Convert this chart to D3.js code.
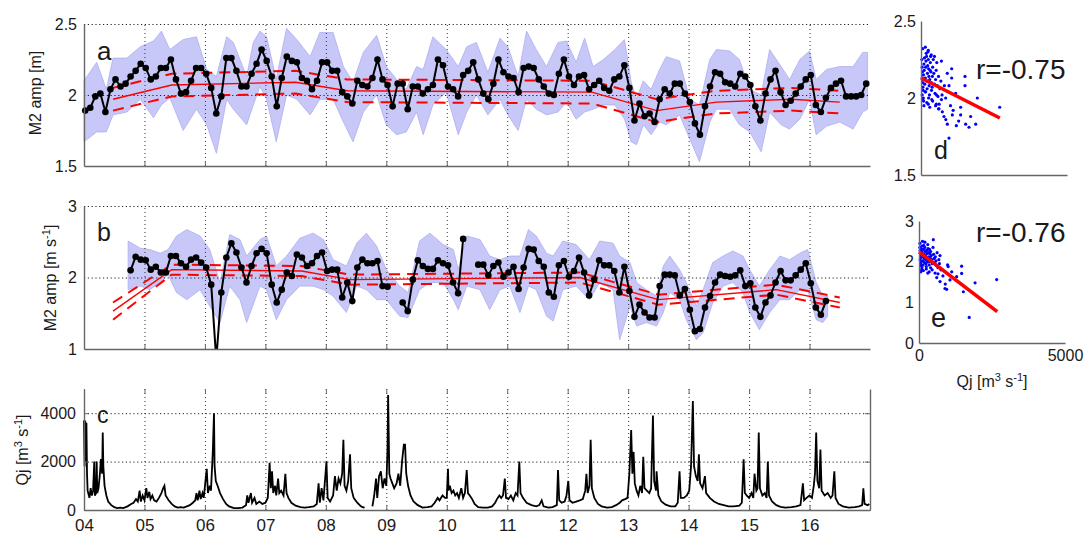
<!DOCTYPE html>
<html>
<head>
<meta charset="utf-8">
<script src="https://cdn.jsdelivr.net/npm/d3@7"></script>
<style>
  body { margin: 0; background: #fff; }
  svg text { font-family: "Liberation Sans", Arial, sans-serif; fill: #1a1a1a; }
</style>
</head>
<body>
<svg width="1089" height="536"></svg>
<script>
// year ticks on the shared time axis
var yearValues = [2004, 2005, 2006, 2007, 2008, 2009, 2010, 2011, 2012, 2013, 2014, 2015, 2016];
var yearLabels = ["04", "05", "06", "07", "08", "09", "10", "11", "12", "13", "14", "15", "16"];

// panel a: monthly M2 amplitude [m], from Jan 2004
var ampA = [1.89, 1.91, 1.99, 2.01, 1.88, 2.04, 2.11, 2.06, 2.08, 2.13,
  2.17, 2.22, 2.19, 2.11, 2.13, 2.19, 2.19, 2.25, 2.11, 2.01,
  2.02, 2.10, 2.19, 2.19, 2.15, 2.05, 1.87, 1.99, 2.26, 2.26,
  2.17, 2.06, 2.06, 2.15, 2.22, 2.32, 2.24, 2.13, 1.92, 2.12,
  2.27, 2.24, 2.23, 2.12, 2.10, 2.04, 2.10, 2.23, 2.23, 2.17,
  2.17, 2.02, 1.99, 1.94, 2.10, 2.07, 2.06, 2.12, 2.25, 2.11,
  2.07, 1.92, 2.08, 2.08, 1.90, 2.06, 2.06, 2.01, 2.04, 2.07,
  2.25, 2.21, 2.06, 2.04, 1.99, 2.14, 2.17, 2.23, 2.11, 2.01,
  1.97, 2.08, 2.25, 2.16, 2.13, 2.12, 2.02, 2.19, 2.20, 2.19,
  2.11, 2.06, 2.01, 2.00, 2.15, 2.25, 2.13, 2.07, 2.13, 2.14,
  2.04, 2.07, 2.10, 2.05, 2.03, 2.11, 2.13, 2.21, 2.05, 1.82,
  1.94, 1.85, 1.87, 1.81, 1.97, 2.04, 2.01, 2.08, 2.08, 2.01,
  1.95, 1.80, 1.72, 1.92, 2.06, 2.16, 2.15, 2.09, 2.08, 2.06,
  2.15, 2.13, 2.07, 1.92, 1.82, 2.01, 2.11, 2.17, 2.02, 1.93,
  1.96, 2.01, 2.06, 2.11, 2.14, 1.93, 1.88, 1.98, 2.05, 2.08,
  2.10, 1.99, 1.99, 1.99, 2.00, 2.08];

// panel b: monthly M2 amplitude [m s-1], from Jan 2004 (null = no data)
var ampB = [null, null, null, null, null, null, null, null, null, 2.10,
  2.29, 2.25, 2.24, 2.11, 2.15, 2.07, 2.07, 2.30, 2.30, 2.20,
  2.15, 2.25, 2.28, 2.21, 2.14, 1.90, 0.85, 1.79, 2.28, 2.48,
  2.35, 2.14, 1.93, 2.16, 2.34, 2.40, 2.34, 1.90, 1.65, 1.83,
  2.07, 2.02, 2.32, 2.28, 2.16, 2.20, 2.30, 2.35, 2.09, 2.11,
  2.11, 1.72, 1.93, 1.67, 2.14, 2.25, 2.20, 2.20, 2.23, 1.88,
  1.87, null, null, 1.65, 1.53, 1.97, 2.24, 2.16, 2.12, 2.12,
  2.24, 2.20, 2.17, 1.93, 1.78, 2.54, null, null, 2.18, 2.18,
  2.03, 2.16, 2.21, 2.01, 2.07, 2.15, 1.84, 2.14, 2.40, 2.39,
  2.23, 2.15, 1.79, 1.73, 2.17, 2.23, 2.01, 2.09, 2.28, 2.07,
  1.75, 1.97, 2.24, 2.17, 2.17, 2.09, 1.79, 2.15, 1.81, 1.45,
  1.62, 1.51, 1.44, 1.44, 1.88, 2.04, 2.04, 2.03, 1.75, 1.84,
  1.55, 1.25, 1.28, 1.58, 1.74, 1.93, 2.04, 2.02, 2.01, 2.03,
  2.10, 1.88, 1.92, 1.58, 1.45, 1.65, 1.75, 1.93, 2.09, 1.96,
  1.96, 2.03, 2.11, 2.20, 1.92, 1.58, 1.48, 1.67];

// shaded envelopes: [year, upper, lower]
var bandA = [[2004.00, 2.10, 1.67], [2004.21, 2.23, 1.74], [2004.37, 2.04, 1.74], [2004.48, 2.26, 1.86],
  [2004.71, 2.26, 1.88], [2004.93, 2.34, 1.97], [2005.15, 2.38, 1.84], [2005.28, 2.45, 1.93],
  [2005.42, 2.32, 1.98], [2005.64, 2.39, 1.75], [2005.86, 2.41, 1.90], [2006.03, 2.18, 1.79],
  [2006.19, 2.13, 1.59], [2006.36, 2.41, 1.97], [2006.47, 2.37, 1.90], [2006.69, 2.13, 1.79],
  [2006.80, 2.37, 1.93], [2006.91, 2.45, 2.06], [2007.02, 2.41, 1.97], [2007.18, 2.11, 1.67],
  [2007.35, 2.47, 2.00], [2007.52, 2.39, 1.97], [2007.74, 2.27, 1.86], [2007.90, 2.44, 1.97],
  [2008.12, 2.44, 1.97], [2008.29, 2.20, 1.81], [2008.45, 2.09, 1.67], [2008.62, 2.30, 1.88],
  [2008.84, 2.42, 2.00], [2009.00, 2.20, 1.79], [2009.17, 2.11, 1.72], [2009.33, 2.04, 1.74],
  [2009.50, 2.20, 1.88], [2009.61, 2.18, 1.72], [2009.77, 2.41, 1.93], [2009.99, 2.32, 2.02],
  [2010.19, 2.20, 1.72], [2010.33, 2.34, 1.88], [2010.49, 2.37, 2.00], [2010.68, 2.16, 1.86],
  [2010.88, 2.40, 1.97], [2011.01, 2.34, 1.86], [2011.18, 2.13, 1.75], [2011.32, 2.45, 1.97],
  [2011.48, 2.32, 1.90], [2011.65, 2.20, 1.86], [2011.84, 2.37, 1.88], [2011.98, 2.38, 1.95],
  [2012.14, 2.23, 1.83], [2012.28, 2.40, 1.88], [2012.42, 2.20, 1.90], [2012.59, 2.25, 1.93],
  [2012.78, 2.32, 1.93], [2012.94, 2.39, 1.83], [2013.05, 2.09, 1.67], [2013.14, 1.97, 1.65],
  [2013.25, 2.10, 1.79], [2013.38, 2.04, 1.72], [2013.52, 2.18, 1.81], [2013.63, 2.27, 1.79],
  [2013.85, 2.24, 1.86], [2014.02, 1.97, 1.69], [2014.18, 1.93, 1.53], [2014.35, 2.25, 1.81],
  [2014.46, 2.32, 1.90], [2014.68, 2.31, 1.90], [2014.84, 2.25, 1.79], [2015.01, 2.04, 1.74],
  [2015.20, 2.00, 1.60], [2015.34, 2.32, 1.88], [2015.53, 2.20, 1.79], [2015.67, 2.11, 1.76],
  [2015.84, 2.25, 1.83], [2016.00, 2.31, 1.97], [2016.11, 2.11, 1.72], [2016.28, 2.18, 1.78],
  [2016.50, 2.20, 1.81], [2016.72, 2.20, 1.76], [2016.88, 2.30, 1.88], [2016.96, 2.30, 1.90]];

var bandB = [[2004.73, 2.51, 1.83], [2004.93, 2.41, 1.88], [2005.09, 2.39, 1.83], [2005.26, 2.34, 1.93],
  [2005.39, 2.39, 2.04], [2005.53, 2.58, 1.79], [2005.70, 2.67, 1.69], [2005.92, 2.58, 1.83],
  [2006.08, 2.39, 1.60], [2006.25, 1.93, 1.37], [2006.41, 2.60, 1.88], [2006.58, 2.53, 1.69],
  [2006.69, 2.30, 1.37], [2006.91, 2.53, 1.88], [2007.02, 2.58, 1.83], [2007.18, 2.16, 1.41],
  [2007.35, 2.30, 1.69], [2007.57, 2.55, 1.88], [2007.79, 2.62, 1.88], [2007.96, 2.53, 1.83],
  [2008.12, 2.25, 1.74], [2008.34, 2.16, 1.51], [2008.51, 2.48, 1.88], [2008.67, 2.62, 1.83],
  [2008.84, 2.44, 1.69], [2009.00, 2.11, 1.69], [2009.22, 1.88, 1.46], [2009.36, 1.79, 1.44],
  [2009.55, 2.51, 1.83], [2009.72, 2.62, 1.93], [2009.94, 2.46, 1.93], [2010.11, 2.39, 1.69],
  [2010.19, 2.11, 1.55], [2010.33, 2.58, 1.88], [2010.55, 2.53, 1.83], [2010.71, 2.30, 1.55],
  [2010.88, 2.25, 1.83], [2011.04, 2.30, 1.88], [2011.21, 2.30, 1.51], [2011.35, 2.67, 1.88],
  [2011.48, 2.58, 1.83], [2011.65, 2.34, 1.46], [2011.76, 2.30, 1.39], [2011.92, 2.51, 1.83],
  [2012.14, 2.46, 1.88], [2012.36, 2.25, 1.69], [2012.53, 2.51, 1.93], [2012.75, 2.48, 1.83],
  [2012.86, 2.30, 1.13], [2013.03, 2.21, 1.60], [2013.14, 1.93, 1.32], [2013.30, 1.83, 1.37],
  [2013.47, 1.74, 1.32], [2013.58, 2.16, 1.51], [2013.69, 2.30, 1.79], [2013.85, 2.11, 1.69],
  [2013.96, 1.93, 1.41], [2014.13, 1.60, 1.13], [2014.24, 1.83, 1.23], [2014.40, 2.21, 1.65],
  [2014.57, 2.30, 1.88], [2014.73, 2.37, 1.93], [2014.90, 2.30, 1.79], [2015.01, 2.11, 1.51],
  [2015.17, 1.88, 1.27], [2015.34, 2.11, 1.51], [2015.51, 2.30, 1.69], [2015.67, 2.25, 1.69],
  [2015.84, 2.34, 1.83], [2015.97, 2.39, 1.83], [2016.11, 1.93, 1.41], [2016.22, 1.74, 1.37],
  [2016.30, 1.74, 1.46]];

// piecewise trends: [year, centre, upper bound, lower bound]
var trendA = [[2004.48, 1.97, 2.05, 1.89], [2005.45, 2.07, 2.15, 1.99], [2007.50, 2.09, 2.17, 2.01],
  [2008.35, 2.03, 2.11, 1.95], [2012.40, 2.02, 2.10, 1.94], [2013.47, 1.89, 1.97, 1.81],
  [2014.46, 1.95, 2.03, 1.87], [2015.70, 1.97, 2.05, 1.89], [2016.50, 1.95, 2.03, 1.87]];
var trendB = [[2004.48, 1.53, 1.65, 1.41], [2005.45, 2.11, 2.18, 2.04], [2007.60, 2.09, 2.16, 2.02],
  [2008.40, 1.97, 2.04, 1.90], [2012.20, 2.00, 2.07, 1.93], [2013.50, 1.69, 1.76, 1.62],
  [2015.45, 1.83, 1.90, 1.76], [2016.50, 1.65, 1.72, 1.58]];

// panel c: discharge Qj [m3 s-1], [year, value]
var qj = [[2004.00, 3700], [2004.01, 1800], [2004.02, 3700], [2004.03, 2000], [2004.04, 3600], [2004.05, 1500],
  [2004.06, 800], [2004.07, 700], [2004.09, 500], [2004.11, 900], [2004.13, 600], [2004.15, 800], [2004.17, 2000],
  [2004.18, 600], [2004.20, 700], [2004.21, 2000], [2004.22, 700], [2004.24, 900], [2004.26, 1400], [2004.28, 2100],
  [2004.30, 1500], [2004.31, 3200], [2004.32, 1800], [2004.34, 1000], [2004.37, 600], [2004.40, 350], [2004.45, 200],
  [2004.50, 120], [2004.55, 80], [2004.60, 100], [2004.65, 80], [2004.72, 150], [2004.78, 250], [2004.82, 300],
  [2004.86, 450], [2004.89, 350], [2004.92, 800], [2004.94, 350], [2004.97, 600], [2005.00, 400], [2005.03, 900],
  [2005.05, 500], [2005.08, 750], [2005.10, 450], [2005.13, 600], [2005.16, 400], [2005.20, 350], [2005.24, 500],
  [2005.28, 700], [2005.31, 900], [2005.33, 1000], [2005.35, 600], [2005.40, 400], [2005.45, 250], [2005.50, 150],
  [2005.55, 100], [2005.60, 120], [2005.65, 100], [2005.70, 150], [2005.75, 200], [2005.80, 300], [2005.84, 400],
  [2005.86, 700], [2005.88, 400], [2005.91, 800], [2005.93, 450], [2005.96, 700], [2005.98, 500], [2006.03, 1700],
  [2006.05, 700], [2006.08, 1000], [2006.10, 800], [2006.13, 2400], [2006.15, 4000], [2006.16, 1800], [2006.18, 1200],
  [2006.21, 1000], [2006.25, 700], [2006.30, 450], [2006.35, 250], [2006.40, 150], [2006.48, 80], [2006.55, 80],
  [2006.62, 100], [2006.68, 200], [2006.70, 600], [2006.72, 300], [2006.76, 700], [2006.78, 300], [2006.82, 500],
  [2006.85, 250], [2006.90, 350], [2006.95, 250], [2007.00, 300], [2007.04, 500], [2007.07, 1950], [2007.09, 900],
  [2007.11, 1600], [2007.13, 700], [2007.16, 1000], [2007.18, 600], [2007.21, 1300], [2007.23, 700], [2007.26, 800],
  [2007.30, 600], [2007.33, 1500], [2007.35, 700], [2007.38, 500], [2007.43, 300], [2007.50, 180], [2007.58, 120],
  [2007.65, 100], [2007.72, 120], [2007.80, 150], [2007.85, 250], [2007.88, 1100], [2007.90, 300], [2007.93, 900],
  [2007.96, 400], [2008.01, 2000], [2008.03, 500], [2008.07, 350], [2008.12, 600], [2008.15, 1400], [2008.18, 800],
  [2008.21, 1300], [2008.24, 1100], [2008.27, 1500], [2008.29, 2900], [2008.31, 1000], [2008.34, 800], [2008.37, 1200],
  [2008.40, 2300], [2008.42, 900], [2008.46, 500], [2008.52, 300], [2008.58, 150], [2008.62, 100], [2008.64, 120],
  [2008.70, null], [2008.77, 150], [2008.80, 600], [2008.83, 1300], [2008.85, 500], [2008.88, 1400], [2008.91, 1600],
  [2008.94, 900], [2008.97, 1300], [2009.00, 1000], [2009.02, 2500], [2009.03, 4750], [2009.05, 1500], [2009.07, 1300],
  [2009.10, 1100], [2009.13, 900], [2009.17, 1100], [2009.20, 1500], [2009.23, 1000], [2009.26, 2000], [2009.29, 2700],
  [2009.31, 2700], [2009.33, 1500], [2009.36, 1000], [2009.40, 600], [2009.45, 350], [2009.52, 200], [2009.60, 100],
  [2009.68, 120], [2009.75, 150], [2009.80, 300], [2009.85, 500], [2009.88, 400], [2009.93, 600], [2009.97, 500],
  [2010.00, 500], [2010.02, 1700], [2010.03, 800], [2010.05, 1000], [2010.08, 700], [2010.11, 800], [2010.14, 600],
  [2010.17, 700], [2010.20, 500], [2010.24, 900], [2010.27, 500], [2010.30, 700], [2010.33, 1650], [2010.35, 700],
  [2010.38, 600], [2010.42, 450], [2010.46, 250], [2010.52, 120], [2010.60, 100], [2010.68, 100], [2010.75, 150],
  [2010.80, 300], [2010.83, 450], [2010.87, 600], [2010.90, 500], [2010.93, 600], [2010.96, 1300], [2010.98, 500],
  [2011.02, 450], [2011.06, 600], [2011.10, 400], [2011.14, 700], [2011.17, 600], [2011.20, 2000], [2011.22, 700],
  [2011.26, 500], [2011.32, 300], [2011.40, 200], [2011.48, 150], [2011.53, 200], [2011.57, 400], [2011.60, 150],
  [2011.68, 100], [2011.75, 120], [2011.82, 200], [2011.84, 1650], [2011.86, 400], [2011.90, 300], [2011.95, 350],
  [2011.98, 600], [2012.01, 1200], [2012.03, 400], [2012.08, 300], [2012.14, 350], [2012.20, 400], [2012.25, 450],
  [2012.29, 800], [2012.31, 1500], [2012.33, 700], [2012.36, 1000], [2012.38, 2900], [2012.40, 900], [2012.44, 500],
  [2012.50, 250], [2012.56, 150], [2012.65, 100], [2012.73, 120], [2012.80, 200], [2012.86, 300], [2012.90, 400],
  [2012.95, 450], [2012.99, 500], [2013.02, 1500], [2013.05, 3300], [2013.07, 1500], [2013.09, 2400], [2013.11, 1100],
  [2013.14, 800], [2013.17, 600], [2013.20, 1000], [2013.23, 700], [2013.25, 2200], [2013.27, 900], [2013.31, 800],
  [2013.35, 700], [2013.38, 900], [2013.41, 3900], [2013.43, 1200], [2013.46, 800], [2013.47, 1600], [2013.50, 600],
  [2013.55, 350], [2013.62, 220], [2013.70, 150], [2013.78, 150], [2013.82, 300], [2013.85, 1600], [2013.87, 500],
  [2013.92, 500], [2013.97, 600], [2014.01, 800], [2014.04, 1800], [2014.07, 4500], [2014.09, 1800], [2014.12, 1400],
  [2014.15, 1200], [2014.17, 2300], [2014.19, 1100], [2014.23, 900], [2014.27, 1400], [2014.29, 700], [2014.35, 500],
  [2014.42, 350], [2014.50, 250], [2014.58, 200], [2014.66, 150], [2014.75, 150], [2014.84, 180], [2014.88, 300],
  [2014.91, 2100], [2014.93, 700], [2014.96, 600], [2015.00, 500], [2015.04, 700], [2015.07, 500], [2015.09, 1500],
  [2015.12, 800], [2015.14, 900], [2015.16, 3200], [2015.18, 900], [2015.22, 600], [2015.26, 700], [2015.29, 500],
  [2015.31, 2000], [2015.33, 600], [2015.38, 350], [2015.45, 200], [2015.52, 130], [2015.60, 100], [2015.70, 120],
  [2015.78, 150], [2015.85, 200], [2015.89, 1100], [2015.91, 400], [2015.95, 500], [2016.00, 600], [2016.04, 500],
  [2016.07, 1000], [2016.09, 1500], [2016.11, 3200], [2016.13, 1200], [2016.16, 900], [2016.18, 2500], [2016.20, 800],
  [2016.25, 600], [2016.30, 700], [2016.35, 500], [2016.38, 600], [2016.41, 1600], [2016.43, 500], [2016.48, 250],
  [2016.55, 150], [2016.65, 100], [2016.75, 120], [2016.82, 150], [2016.87, 200], [2016.89, 900], [2016.91, 250],
  [2016.96, 200], [2016.99, 250]];

// panels d and e: [Qj, amplitude]
var scatterD = [[30, 2.25], [40, 2.20], [50, 2.17], [60, 2.10], [70, 2.05], [80, 2.00], [90, 1.98], [40, 2.02],
  [55, 1.99], [65, 2.07], [75, 2.12], [85, 2.15], [100, 2.22], [110, 2.18], [120, 2.26], [130, 2.09], [140, 2.04],
  [150, 2.13], [160, 2.20], [170, 2.24], [180, 2.29], [190, 2.27], [200, 2.11], [210, 2.06], [220, 2.16], [230, 2.21],
  [240, 2.30], [250, 2.25], [260, 2.19], [270, 2.14], [280, 2.08], [290, 2.02], [300, 2.12], [310, 2.18], [320, 2.23],
  [330, 2.27], [340, 2.17], [350, 2.10], [360, 2.05], [370, 1.99], [380, 2.07], [390, 2.14], [400, 2.20], [420, 2.25],
  [440, 2.16], [460, 2.09], [480, 2.03], [500, 2.12], [520, 2.18], [540, 2.23], [560, 2.08], [580, 2.01], [600, 2.14],
  [620, 1.96], [650, 2.06], [680, 2.11], [700, 2.24], [720, 2.02], [60, 2.32], [150, 2.33], [250, 2.31], [350, 2.28],
  [100, 1.95], [200, 1.97], [300, 1.94], [400, 1.98], [500, 1.95], [600, 1.93], [40, 2.13], [160, 2.04], [260, 2.00],
  [460, 2.27], [530, 2.02], [250, 1.96], [1050, 2.19], [1050, 2.13], [1507, 2.14], [1507, 2.08], [1930, 2.00],
  [2695, 1.94], [959, 2.08], [1187, 2.03], [845, 2.00], [1010, 1.95], [1358, 1.94], [730, 1.91], [787, 1.88],
  [1073, 1.89], [1358, 1.89], [1701, 1.88], [902, 1.83], [1290, 1.85], [1644, 1.81], [1873, 1.83], [1530, 1.83],
  [959, 1.74], [1210, 1.82], [616, 1.93], [525, 1.96], [850, 1.86], [1100, 1.92], [700, 1.99], [800, 2.08], [900, 2.16]];
var scatterE = [[30, 2.35], [40, 2.28], [50, 2.20], [60, 2.10], [70, 2.00], [80, 1.90], [90, 1.80], [40, 2.05],
  [55, 1.95], [65, 2.15], [75, 2.25], [85, 2.30], [100, 2.38], [110, 2.22], [120, 2.12], [130, 2.02], [140, 1.92],
  [150, 2.30], [160, 2.40], [170, 2.18], [180, 2.08], [190, 1.98], [200, 2.35], [210, 2.25], [220, 2.15], [230, 2.05],
  [240, 1.95], [250, 1.88], [260, 2.28], [270, 2.20], [280, 2.10], [290, 2.00], [300, 2.42], [310, 2.32], [320, 2.22],
  [330, 2.12], [340, 2.02], [350, 1.92], [360, 2.30], [370, 2.20], [380, 2.10], [390, 2.00], [400, 2.25], [420, 2.15],
  [440, 2.05], [460, 1.95], [480, 2.35], [500, 2.18], [520, 2.08], [540, 1.98], [560, 2.12], [580, 2.02], [600, 1.90],
  [620, 2.22], [650, 1.85], [680, 2.05], [700, 1.95], [720, 2.15], [750, 1.80], [60, 1.75], [150, 1.78], [250, 1.82],
  [350, 1.75], [450, 1.80], [550, 1.72], [650, 1.70], [30, 2.45], [120, 2.50], [200, 2.48], [490, 2.54], [100, 1.85],
  [400, 1.85], [300, 1.72], [980, 1.92], [1000, 1.88], [1460, 1.89], [1460, 1.71], [1060, 1.55], [890, 1.34],
  [948, 1.32], [1520, 1.26], [1920, 1.48], [2660, 1.56], [1720, 0.63], [720, 1.51], [606, 1.61], [1290, 1.63],
  [1120, 1.75], [820, 1.65], [900, 1.45]];

// least-squares lines: [Qj, amplitude] end points
var fitD = [[0, 2.13], [2700, 1.87]];
var fitE = [[0, 2.24], [2680, 0.77]];
var corrLabels = ["r=-0.75", "r=-0.76"];

var svg = d3.select("svg");
var axisColor = "#666";

var x = d3.scaleLinear().domain([2004, 2017]).range([84, 870]);
function monthTime(i) { return 2004 + (i + 0.25) / 12; }

var yA = d3.scaleLinear().domain([1.5, 2.5]).range([166, 24]);
var yB = d3.scaleLinear().domain([1, 3]).range([349, 206]);
var yC = d3.scaleLinear().domain([0, 5000]).range([510, 389]);
var plain = function(d) { return String(d); };

function styleAxis(sel, fontSize) {
  sel.attr("font-size", fontSize).attr("font-family", null);
  sel.select(".domain").attr("stroke", axisColor).attr("stroke-width", 1.4);
  sel.selectAll(".tick line").attr("stroke", axisColor);
}

function grid(g, y, hValues) {
  var h = y.range()[0] - y.range()[1];
  g.append("g")
    .attr("transform", "translate(0," + y.range()[0] + ")")
    .call(d3.axisBottom(x).tickValues(yearValues.slice(1)).tickSize(-h).tickFormat(""))
    .call(function(s) { s.select(".domain").remove(); })
    .selectAll("line").attr("stroke", "#333").attr("stroke-dasharray", "1,3");
  g.append("g")
    .attr("transform", "translate(84,0)")
    .call(d3.axisLeft(y).tickValues(hValues).tickSize(-(870 - 84)).tickFormat(""))
    .call(function(s) { s.select(".domain").remove(); })
    .selectAll("line").attr("stroke", "#222").attr("stroke-dasharray", "1.2,2.6");
}

function band(g, data, y) {
  g.append("path")
    .datum(data)
    .attr("fill", "#c7c7f8")
    .attr("stroke", "#aeaef0")
    .attr("stroke-width", 0.8)
    .attr("d", d3.area()
      .x(function(d) { return x(d[0]); })
      .y0(function(d) { return y(d[2]); })
      .y1(function(d) { return y(d[1]); }));
}

function trend(g, data, y) {
  [1, 2, 3].forEach(function(c) {
    g.append("path")
      .datum(data)
      .attr("fill", "none")
      .attr("stroke", "#ff0000")
      .attr("stroke-width", c === 1 ? 1.4 : 2)
      .attr("stroke-dasharray", c === 1 ? null : "11,7")
      .attr("d", d3.line()
        .x(function(d) { return x(d[0]); })
        .y(function(d) { return y(d[c]); }));
  });
}

function series(g, values, y) {
  var pts = values.map(function(v, i) { return [monthTime(i), v]; });
  g.append("path")
    .datum(pts)
    .attr("fill", "none")
    .attr("stroke", "#000")
    .attr("stroke-width", 2)
    .attr("d", d3.line()
      .defined(function(d) { return d[1] != null; })
      .x(function(d) { return x(d[0]); })
      .y(function(d) { return y(d[1]); }));
  g.selectAll("circle.pt")
    .data(pts.filter(function(d) { return d[1] != null; }))
    .enter().append("circle")
    .attr("class", "pt")
    .attr("cx", function(d) { return x(d[0]); })
    .attr("cy", function(d) { return y(d[1]); })
    .attr("r", 3.3)
    .attr("fill", "#000");
}

function frame(g, y, ticks) {
  g.append("g")
    .attr("transform", "translate(84,0)")
    .call(d3.axisLeft(y).tickValues(ticks).tickSize(0).tickPadding(7).tickFormat(plain))
    .call(function(s) { styleAxis(s, 16); });
  g.append("g")
    .attr("transform", "translate(0," + y.range()[0] + ")")
    .call(d3.axisBottom(x).tickValues(yearValues).tickSizeInner(-5).tickSizeOuter(0).tickFormat(""))
    .call(function(s) { styleAxis(s, 16); });
}

// ---- panel a
var ga = svg.append("g");
band(ga, bandA, yA);
grid(ga, yA, [2, 2.5]);
trend(ga, trendA, yA);
series(ga, ampA, yA);
frame(ga, yA, [1.5, 2, 2.5]);

// ---- panel b
svg.append("clipPath").attr("id", "clipB")
  .append("rect").attr("x", 84).attr("y", 206).attr("width", 786).attr("height", 143);
var gb = svg.append("g");
band(gb, bandB, yB);
grid(gb, yB, [2, 3]);
var gbc = gb.append("g").attr("clip-path", "url(#clipB)");
trend(gbc, trendB, yB);
series(gbc, ampB, yB);
frame(gb, yB, [1, 2, 3]);

// ---- panel c
var gc = svg.append("g");
grid(gc, yC, [2000, 4000]);
gc.append("path")
  .datum(qj)
  .attr("fill", "none")
  .attr("stroke", "#000")
  .attr("stroke-width", 1.8)
  .attr("stroke-linejoin", "miter")
  .attr("d", d3.line()
    .defined(function(d) { return d[1] != null; })
    .x(function(d) { return x(d[0]); })
    .y(function(d) { return yC(d[1]); }));
gc.append("g")
  .attr("transform", "translate(84,0)")
  .call(d3.axisLeft(yC).tickValues([0, 2000, 4000]).tickSizeInner(-4).tickSizeOuter(0).tickPadding(8).tickFormat(plain))
  .call(function(s) { styleAxis(s, 16); });
gc.append("g")
  .attr("transform", "translate(870,0)")
  .call(d3.axisRight(yC).tickValues([0, 2000, 4000]).tickSizeInner(-5).tickSizeOuter(0).tickFormat(""))
  .call(function(s) { styleAxis(s, 16); });
gc.append("g")
  .attr("transform", "translate(0,389)")
  .call(d3.axisTop(x).tickValues(yearValues).tickSizeInner(-5).tickSizeOuter(0).tickFormat(""))
  .call(function(s) { styleAxis(s, 16); s.select(".domain").remove(); });
gc.append("g")
  .attr("transform", "translate(0,510)")
  .call(d3.axisBottom(x).tickValues(yearValues).tickSizeInner(-5).tickSizeOuter(0).tickPadding(9)
    .tickFormat(function(d, i) { return yearLabels[i]; }))
  .call(function(s) { styleAxis(s, 17); });

// ---- scatter panels
function scatter(data, fit, xs, ys, yTicks) {
  var g = svg.append("g");
  g.selectAll("circle")
    .data(data)
    .enter().append("circle")
    .attr("cx", function(d) { return xs(d[0]); })
    .attr("cy", function(d) { return ys(d[1]); })
    .attr("r", 1.6)
    .attr("fill", "#0000ff");
  g.append("path")
    .datum(fit)
    .attr("fill", "none")
    .attr("stroke", "#ff0000")
    .attr("stroke-width", 3.6)
    .attr("d", d3.line().x(function(d) { return xs(d[0]); }).y(function(d) { return ys(d[1]); }));
  g.append("g")
    .attr("transform", "translate(" + xs.range()[0] + ",0)")
    .call(d3.axisLeft(ys).tickValues(yTicks).tickSize(0).tickPadding(5).tickFormat(plain))
    .call(function(s) { styleAxis(s, 16); });
  return g;
}

var xD = d3.scaleLinear().domain([0, 5000]).range([921, 1067]);
var yD = d3.scaleLinear().domain([1.5, 2.5]).range([175, 21]);
var gd = scatter(scatterD, fitD, xD, yD, [1.5, 2, 2.5]);
gd.append("g")
  .attr("transform", "translate(0,175)")
  .call(d3.axisBottom(xD).tickValues([]).tickSizeOuter(0))
  .call(function(s) { styleAxis(s, 16); });

var xE = d3.scaleLinear().domain([0, 5000]).range([919, 1065]);
var yE = d3.scaleLinear().domain([0, 3]).range([343, 221]);
var ge = scatter(scatterE, fitE, xE, yE, [0, 1, 2, 3]);
ge.append("g")
  .attr("transform", "translate(0,343)")
  .call(d3.axisBottom(xE).tickValues([0, 5000]).tickSize(0).tickPadding(7).tickFormat(plain))
  .call(function(s) { styleAxis(s, 16); });

// ---- text labels
function label(xp, yp, txt, size) {
  return svg.append("text").attr("x", xp).attr("y", yp).attr("font-size", size).text(txt);
}
label(97, 60, "a", 26);
label(97, 241, "b", 25);
label(97, 423, "c", 23);
label(934, 159, "d", 25);
label(931, 327, "e", 27);
label(976, 79, corrLabels[0], 28);
label(976, 242, corrLabels[1], 28);

function unitLabel(tx, ty, rot, parts) {
  var t = svg.append("text")
    .attr("transform", "translate(" + tx + "," + ty + ")" + (rot ? " rotate(-90)" : ""))
    .attr("text-anchor", "middle")
    .attr("font-size", 16);
  var shift = 0;
  parts.forEach(function(p) {
    var sup = p[1];
    var dy = sup ? -6 - shift : -shift;
    shift = sup ? -6 : 0;
    t.append("tspan").attr("dy", dy).attr("font-size", sup ? 11 : 16).text(p[0]);
  });
}
unitLabel(41, 93, true, [["M2 amp [m]", false]]);
unitLabel(56, 278, true, [["M2 amp [m s", false], ["-1", true], ["]", false]]);
unitLabel(28, 450, true, [["Qj [m", false], ["3", true], [" s", false], ["-1", true], ["]", false]]);
unitLabel(992, 387, false, [["Qj [m", false], ["3", true], [" s", false], ["-1", true], ["]", false]]);
</script>
</body>
</html>
